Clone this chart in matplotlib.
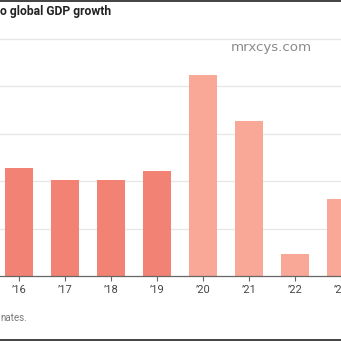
import matplotlib
matplotlib.use("Agg")
import matplotlib.pyplot as plt

plt.rcParams['font.family'] = ['Roboto', 'DejaVu Sans']

# contribution to global GDP growth, %
years = ["’16", "’17", "’18", "’19", "’20", "’21", "’22", "’23"]
values = [22.8, 20.3, 20.3, 22.2, 42.5, 32.8, 4.7, 16.3]
estimate = [False, False, False, False, True, True, True, True]

dark = "#F28374"
light = "#F9A796"
colors = [light if e else dark for e in estimate]

W = H = 341
fig = plt.figure(figsize=(3.41, 3.41), dpi=100)

# plot area: baseline at y=276px, top gridline at y=39px; first tick at x=19px
step = 46.2
ax = fig.add_axes([0, (H - 276) / H, 1, (276 - 39) / H])
ax.set_xlim(-19 / step, (W - 19) / step)
ax.set_ylim(0, 50)

xs = list(range(len(years)))
ax.bar(xs, values, width=0.61, color=colors, zorder=2)

for v in [10, 20, 30, 40, 50]:
    ax.axhline(v, color="#e6e6e6", lw=0.9, zorder=1, clip_on=False)

for s in ["top", "right", "left"]:
    ax.spines[s].set_visible(False)
ax.spines["bottom"].set_color("#666666")
ax.spines["bottom"].set_linewidth(0.9)
ax.set_yticks([])
ax.set_xticks(xs)
ax.set_xticklabels(years, fontsize=8, color="#444444")
ax.tick_params(axis="x", length=3.5, width=0.8, color="#666666", pad=3)

# header, footer and frame lines
fig.text(0 / W, 1 - 12 / H, "o global GDP growth", fontsize=8.7, fontweight="bold",
         color="#222222", ha="left", va="center")
fig.text(0 / W, 1 - 318 / H, "nates.", fontsize=7, color="#777777",
         ha="left", va="center")
fig.text(271.5 / W, 1 - 48 / H, "mrxcys.com", fontsize=9.6, color="#8a8a8a",
         family="DejaVu Sans", ha="center", va="center")

fig.add_artist(plt.Line2D([0, 1], [1 - 0.5 / H, 1 - 0.5 / H], color="#222222", lw=1.2))
fig.add_artist(plt.Line2D([0, 1], [1 - 339.5 / H, 1 - 339.5 / H], color="#222222", lw=1.2))

fig.savefig("out.png", dpi=100)
